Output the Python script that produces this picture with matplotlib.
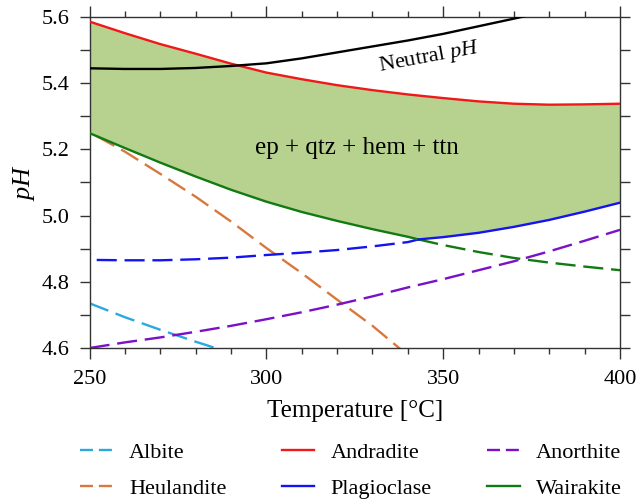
import numpy as np
import matplotlib.pyplot as plt
from matplotlib.ticker import MultipleLocator

plt.rcParams['font.family'] = ['Liberation Serif', 'DejaVu Serif']
plt.rcParams['mathtext.fontset'] = 'custom'
plt.rcParams['mathtext.rm'] = 'Liberation Serif'
plt.rcParams['mathtext.it'] = 'Liberation Serif:italic'

# values (temperature in degC, pH)
t_andradite = [250, 260, 270, 280, 290, 300, 310, 320, 330, 340, 350, 360, 370, 380, 390, 400]
ph_andradite = [5.586, 5.551, 5.518, 5.489, 5.459, 5.432, 5.412, 5.394, 5.379, 5.366, 5.355,
                5.345, 5.338, 5.335, 5.336, 5.338]

t_neutral = [250, 260, 270, 280, 290, 300, 310, 320, 330, 340, 350, 360, 370, 375]
ph_neutral = [5.445, 5.443, 5.443, 5.446, 5.452, 5.460, 5.475, 5.493, 5.511, 5.529, 5.549,
              5.572, 5.595, 5.607]

t_wairakite = [250, 260, 270, 280, 290, 300, 310, 320, 330, 340, 343, 350, 360, 370, 380, 390, 400]
ph_wairakite = [5.249, 5.204, 5.160, 5.118, 5.078, 5.042, 5.011, 4.984, 4.959, 4.936, 4.928,
                4.911, 4.890, 4.872, 4.858, 4.846, 4.835]

t_plagioclase = [252, 260, 270, 280, 290, 300, 310, 320, 330, 340, 343, 350, 360, 370, 380, 390, 400]
ph_plagioclase = [4.866, 4.865, 4.865, 4.868, 4.873, 4.881, 4.888, 4.896, 4.907, 4.920, 4.928,
                  4.935, 4.948, 4.966, 4.987, 5.012, 5.039]

t_heulandite = [252, 260, 270, 280, 290, 300, 310, 320, 330, 340]
ph_heulandite = [5.240, 5.193, 5.126, 5.057, 4.982, 4.902, 4.826, 4.746, 4.667, 4.578]

t_albite = [250, 260, 270, 280, 290]
ph_albite = [4.735, 4.693, 4.655, 4.619, 4.585]

t_anorthite = [250, 260, 270, 280, 290, 300, 310, 320, 330, 340, 350, 360, 370, 380, 390, 400]
ph_anorthite = [4.600, 4.617, 4.632, 4.649, 4.667, 4.687, 4.708, 4.731, 4.756, 4.783, 4.808,
                4.835, 4.862, 4.892, 4.924, 4.957]

t_junction = 343  # where wairakite hands over to plagioclase

c_albite = '#2aa9e0'
c_heulandite = '#d8783c'
c_andradite = '#f01818'
c_plagioclase = '#1414f0'
c_anorthite = '#7a10c8'
c_wairakite = '#127a12'
c_fill = '#b7d18f'

lw = 1.7
dash = (8.5, 3.3)
legend_dash = (5.5, 2.5)

fig = plt.figure(figsize=(6.37, 5.04), dpi=100)
ax = fig.add_axes([0.1407, 0.3095, 0.8326, 0.6568])

# stability field of ep + qtz + hem + ttn
grid = np.linspace(250, 400, 301)
upper = np.interp(grid, t_andradite, ph_andradite)
lower = np.maximum(np.interp(grid, t_wairakite, ph_wairakite),
                   np.interp(grid, t_plagioclase, ph_plagioclase))
ax.fill_between(grid, lower, upper, color=c_fill, lw=0, zorder=1)

tw = np.array(t_wairakite)
pw = np.array(ph_wairakite)
tp = np.array(t_plagioclase)
pp = np.array(ph_plagioclase)

ax.plot(t_albite, ph_albite, color=c_albite, lw=lw, dashes=dash, zorder=2)
ax.plot(t_heulandite, ph_heulandite, color=c_heulandite, lw=lw, dashes=dash, zorder=2)
ax.plot(t_anorthite, ph_anorthite, color=c_anorthite, lw=lw, dashes=dash, zorder=2)
ax.plot(tp[tp <= t_junction], pp[tp <= t_junction], color=c_plagioclase, lw=lw, dashes=dash, zorder=2)
ax.plot(tw[tw >= t_junction], pw[tw >= t_junction], color=c_wairakite, lw=lw, dashes=dash, zorder=2)
ax.plot(tw[tw <= t_junction], pw[tw <= t_junction], color=c_wairakite, lw=lw, zorder=3)
ax.plot(tp[tp >= t_junction], pp[tp >= t_junction], color=c_plagioclase, lw=lw, zorder=3)
ax.plot(t_andradite, ph_andradite, color=c_andradite, lw=lw, zorder=3)
ax.plot(t_neutral, ph_neutral, color='black', lw=lw, zorder=3)

ax.text(325.5, 5.205, 'ep + qtz + hem + ttn', fontsize=18, ha='center', va='center')
ax.text(346, 5.478, 'Neutral $\\mathit{pH}$', fontsize=16, ha='center', va='center', rotation=10.5)

ax.set_xlim(250, 400)
ax.set_ylim(4.6, 5.6)
ax.xaxis.set_major_locator(MultipleLocator(50))
ax.xaxis.set_minor_locator(MultipleLocator(10))
ax.yaxis.set_major_locator(MultipleLocator(0.2))
ax.yaxis.set_minor_locator(MultipleLocator(0.1))
ax.yaxis.set_major_formatter(plt.FormatStrFormatter('%.1f'))
ax.tick_params(which='both', direction='out', top=True, right=True, color='#333333', width=1)
ax.tick_params(axis='x', which='major', length=8, labelsize=16, pad=8)
ax.tick_params(axis='x', which='minor', length=4.2)
ax.tick_params(axis='y', which='both', length=7.5, labelsize=16, pad=7)
for s in ax.spines.values():
    s.set_color('#333333')
    s.set_linewidth(1)

ax.set_xlabel('Temperature [°C]', fontsize=18, labelpad=8)
ax.set_ylabel('$\\mathit{pH}$', fontsize=19, labelpad=3)

# legend is filled column by column
handles = [
    plt.Line2D([], [], color=c_albite, lw=lw, dashes=legend_dash),
    plt.Line2D([], [], color=c_heulandite, lw=lw, dashes=legend_dash),
    plt.Line2D([], [], color=c_andradite, lw=lw),
    plt.Line2D([], [], color=c_plagioclase, lw=lw),
    plt.Line2D([], [], color=c_anorthite, lw=lw, dashes=legend_dash),
    plt.Line2D([], [], color=c_wairakite, lw=lw),
]
labels = ['Albite', 'Heulandite', 'Andradite', 'Plagioclase', 'Anorthite', 'Wairakite']
fig.legend(handles, labels, ncol=3, loc='upper left', bbox_to_anchor=(80 / 637, 1 - 442 / 504),
           frameon=False, fontsize=16, borderpad=0, borderaxespad=0, handlelength=1.45,
           handletextpad=0.75, columnspacing=2.5, labelspacing=0.72)

fig.savefig('out.png', dpi=100)
